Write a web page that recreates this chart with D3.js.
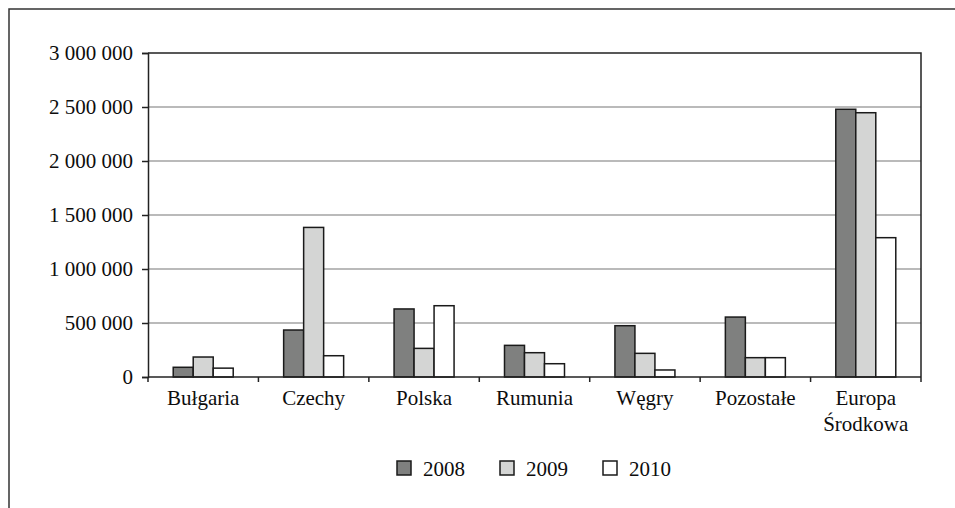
<!DOCTYPE html>
<html>
<head>
<meta charset="utf-8">
<script src="https://cdn.jsdelivr.net/npm/d3@7"></script>
<style>
  html, body { margin: 0; padding: 0; background: #fff; }
  svg { display: block; }
  svg text { font-family: "Liberation Serif", "Times New Roman", serif; }
</style>
</head>
<body>
<svg id="chart" width="955" height="508"></svg>
<script>
// Categories and yearly values
const categories = ["Bułgaria", "Czechy", "Polska", "Rumunia", "Węgry", "Pozostałe", "Europa\nŚrodkowa"];
const years = ["2008", "2009", "2010"];
const values2008 = [90000, 435000, 630000, 293000, 475000, 555000, 2479000];
const values2009 = [185000, 1385000, 265000, 225000, 219000, 179000, 2447000];
const values2010 = [82000, 197000, 660000, 123000, 65000, 179000, 1290000];
const yTicks = [0, 500000, 1000000, 1500000, 2000000, 2500000, 3000000];
const seriesColors = ["#7f807f", "#d4d5d4", "#ffffff"];

const series = [values2008, values2009, values2010];

const svg = d3.select("#chart");
const W = 955, H = 508;
const plot = { left: 148, right: 921, top: 53, bottom: 377 };
const FONT_SIZE = 21;

// Outer frame (top and left edges visible)
svg.append("path")
  .attr("d", `M9,${H} L9,9 L${W},9`)
  .attr("fill", "none")
  .attr("stroke", "#333")
  .attr("stroke-width", 1.5);

const x = d3.scaleBand()
  .domain(categories)
  .range([plot.left, plot.right])
  .paddingInner(0.4567)
  .paddingOuter(0.4567 / 2);

const xs = d3.scaleBand()
  .domain(years)
  .range([0, x.bandwidth()]);

const y = d3.scaleLinear()
  .domain([0, 3000000])
  .range([plot.bottom, plot.top]);

// Horizontal gridlines
svg.append("g")
  .selectAll("line")
  .data(yTicks.filter(v => v > 0 && v < 3000000))
  .join("line")
  .attr("x1", plot.left)
  .attr("x2", plot.right)
  .attr("y1", d => y(d))
  .attr("y2", d => y(d))
  .attr("stroke", "#a3a3a3")
  .attr("stroke-width", 1.5);

// Plot area border (top and right)
svg.append("path")
  .attr("d", `M${plot.left},${plot.top} L${plot.right},${plot.top} L${plot.right},${plot.bottom}`)
  .attr("fill", "none")
  .attr("stroke", "#222")
  .attr("stroke-width", 1.5);

// Bars
const groups = svg.append("g")
  .selectAll("g")
  .data(categories)
  .join("g")
  .attr("transform", d => `translate(${x(d)},0)`);

groups.selectAll("rect")
  .data((c, i) => years.map((yr, k) => ({ yr, k, v: series[k][i] })))
  .join("rect")
  .attr("x", d => xs(d.yr))
  .attr("width", xs.bandwidth())
  .attr("y", d => y(d.v))
  .attr("height", d => y(0) - y(d.v))
  .attr("fill", d => seriesColors[d.k])
  .attr("stroke", "#1a1a1a")
  .attr("stroke-width", 1.5);

// Y axis
const fmt = v => d3.format(",")(v).replace(/,/g, " ");
const yAxis = svg.append("g")
  .attr("transform", `translate(${plot.left},0)`)
  .call(d3.axisLeft(y).tickValues(yTicks).tickFormat(fmt).tickSize(6).tickPadding(9));
yAxis.attr("font-family", null).attr("font-size", null);
yAxis.select(".domain").attr("stroke", "#222").attr("stroke-width", 1.5);
yAxis.selectAll(".tick line").attr("stroke", "#222").attr("stroke-width", 1.5);
yAxis.selectAll(".tick text")
  .attr("font-size", FONT_SIZE)
  .attr("fill", "#0d0d0d");

// X axis baseline and boundary ticks
svg.append("line")
  .attr("x1", plot.left).attr("x2", plot.right)
  .attr("y1", plot.bottom).attr("y2", plot.bottom)
  .attr("stroke", "#222").attr("stroke-width", 1.5);

const boundaries = categories.map(c => x(c) - x.step() * x.paddingInner() / 2).concat([plot.right]);
svg.append("g")
  .selectAll("line")
  .data(boundaries)
  .join("line")
  .attr("x1", d => d).attr("x2", d => d)
  .attr("y1", plot.bottom).attr("y2", plot.bottom + 5)
  .attr("stroke", "#222").attr("stroke-width", 1.5);

// Category labels (multi-line names split on \n)
svg.append("g")
  .selectAll("text")
  .data(categories)
  .join("text")
  .attr("x", d => x(d) + x.bandwidth() / 2)
  .attr("y", 405)
  .attr("text-anchor", "middle")
  .attr("font-size", FONT_SIZE)
  .attr("fill", "#0d0d0d")
  .each(function (d) {
    const lines = d.split("\n");
    d3.select(this).selectAll("tspan")
      .data(lines)
      .join("tspan")
      .attr("x", x(d) + x.bandwidth() / 2)
      .attr("dy", (l, i) => i === 0 ? 0 : 26)
      .text(l => l);
  });

// Legend
const legend = svg.append("g")
  .selectAll("g")
  .data(years)
  .join("g")
  .attr("transform", (d, i) => `translate(${397 + i * 103},461)`);
legend.append("rect")
  .attr("width", 14).attr("height", 14)
  .attr("fill", (d, i) => seriesColors[i])
  .attr("stroke", "#1a1a1a")
  .attr("stroke-width", 1.5);
legend.append("text")
  .attr("x", 26)
  .attr("y", 14.5)
  .attr("font-size", FONT_SIZE)
  .attr("fill", "#0d0d0d")
  .text(d => d);
</script>
</body>
</html>
